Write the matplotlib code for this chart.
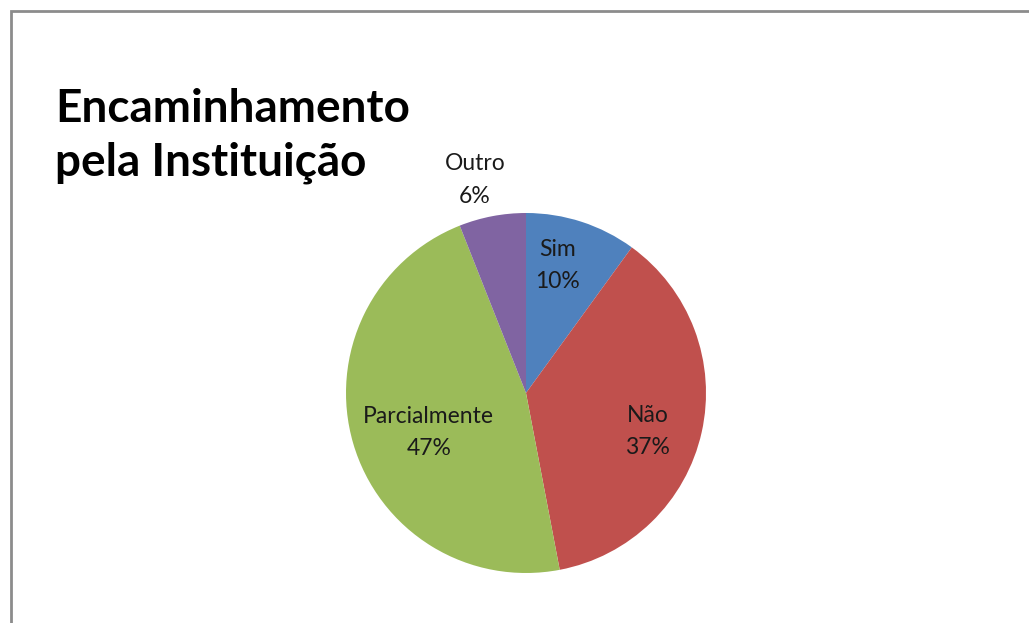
import numpy as np
import matplotlib
matplotlib.use("Agg")
import matplotlib.pyplot as plt
from matplotlib.patches import Rectangle

categories = ["Sim", "Não", "Parcialmente", "Outro"]
values = [10, 37, 47, 6]
colors = ["#4F81BD", "#C0504D", "#9BBB59", "#8064A2"]
# Excel-like label placement: distance from centre (radius units), angle nudge (deg)
label_dist = [0.73, 0.71, 0.583, 1.217]
label_nudge = [4, -5, 6, 2.7]

plt.rcParams['font.family'] = ['Lato', 'DejaVu Sans']

fig = plt.figure(figsize=(10.29, 6.23), dpi=100)

# chart frame
fig.patches.append(Rectangle((11 / 1029, -0.1), 1.2, (623 - 11) / 623 + 0.1,
                             transform=fig.transFigure, fill=False,
                             edgecolor="#8c8c8c", linewidth=2))

fig.text(55 / 1029, 1 - 88 / 623, "Encaminhamento\npela Instituição",
         fontsize=33, fontweight="bold", ha="left", va="top",
         linespacing=1.35, color="black")

cx, cy, r = 526, 393, 180
ax = fig.add_axes([(cx - r) / 1029, (623 - cy - r) / 623, 2 * r / 1029, 2 * r / 623])
wedges, _ = ax.pie(values, colors=colors, startangle=90, counterclock=False,
                   radius=1, wedgeprops=dict(linewidth=0))
ax.set_xlim(-1, 1)
ax.set_ylim(-1, 1)
ax.set_aspect("auto")
ax.axis("off")

total = sum(values)
for w, name, v, d, nd in zip(wedges, categories, values, label_dist, label_nudge):
    ang = np.deg2rad((w.theta1 + w.theta2) / 2 + nd)
    ax.text(d * np.cos(ang), d * np.sin(ang), "{}\n{}%".format(name, round(100 * v / total)),
            ha="center", va="center", fontsize=16.5, color="#1a1a1a", linespacing=1.65)

fig.savefig("out.png", dpi=100)
